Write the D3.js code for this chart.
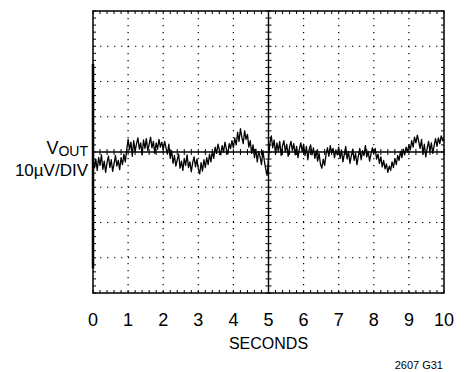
<!DOCTYPE html>
<html>
<head>
<meta charset="utf-8">
<script src="https://cdn.jsdelivr.net/npm/d3@7"></script>
<style>
  body { margin: 0; background: #fff; }
  text { font-family: "Liberation Sans", Arial, sans-serif; fill: #000; }
</style>
</head>
<body>
<div id="chart"></div>
<script>
// tick labels on the time axis (seconds)
const xTicks = [0, 1, 2, 3, 4, 5, 6, 7, 8, 9, 10];
// vertical divisions, 10uV each
const yDivs = [-40, -30, -20, -10, 0, 10, 20, 30, 40];

// sample spacing in seconds
const dt = 0.04;
// output noise in uV (one value every 40ms)
const noise = [
  -1.0,-4.5,-2.0,-5.2,-1.5,-3.8,-0.8,-4.9,-2.6,-5.8,-3.0,-1.2,-4.4,-2.2,-5.5,-3.4,-1.0,-4.0,-2.4,-5.0,-1.6,-3.6,-0.6,-2.8,0.5,
  3.6,0.6,2.8,-1.2,3.2,0.2,2.4,4.0,0.8,2.6,-0.8,3.4,1.0,3.8,0.4,2.2,4.2,1.2,3.0,-0.4,2.6,0.8,3.6,1.4,2.8,
  0.6,3.0,1.2,-0.6,2.2,-1.8,0.4,-3.2,-1.0,-4.0,-2.2,-0.6,-4.6,-2.6,-5.2,-1.8,-3.8,-0.8,-4.4,-2.8,-5.6,-3.0,-1.4,-4.2,-2.0,
  -4.8,-6.2,-3.0,-5.4,-2.2,-4.4,-1.6,-3.6,-0.6,-2.8,0.2,-1.8,1.4,-0.4,2.2,0.6,-0.8,1.8,0.0,2.8,0.8,-0.6,2.4,1.0,3.2,
  1.2,4.0,2.0,5.6,3.0,6.6,4.2,2.4,6.0,3.6,5.0,1.4,3.2,-0.4,2.0,-1.6,0.8,-2.8,0.2,-1.4,-3.6,0.4,-2.4,-4.8,-6.6,
  -2.0,2.4,4.6,1.2,3.4,-0.6,2.6,0.2,3.0,-1.0,1.8,3.2,0.0,2.2,-1.2,1.4,3.0,0.4,2.4,-0.8,1.6,-1.6,0.8,2.6,0.2,
  2.2,-1.0,1.6,-2.2,0.8,2.0,-0.8,1.2,-1.8,0.4,-2.6,-0.4,-3.4,-4.6,-2.0,-3.8,-0.6,1.2,-1.2,1.8,-0.2,1.0,-1.6,0.6,-0.8,
  1.4,-1.8,0.6,-2.8,-0.6,1.6,-2.0,0.2,-3.2,-1.0,0.8,-2.4,-0.4,-3.6,-1.2,1.0,-2.2,0.4,-1.0,1.8,-1.4,0.2,-2.6,-0.6,1.2,
  -0.4,1.0,-2.0,-0.6,-3.2,-1.4,-4.2,-2.4,-4.8,-3.4,-5.8,-4.0,-5.2,-2.8,-4.4,-1.8,-3.6,-1.0,-2.4,0.2,-1.6,0.8,-0.8,1.4,0.0,
  2.0,0.6,3.2,1.4,4.2,2.6,4.8,3.0,1.0,3.6,-0.6,2.2,-1.4,1.0,3.0,0.2,2.6,-0.4,1.8,3.8,1.6,4.0,2.4,4.6,3.2,
  3.6
];
// retrace along the left edge of the screen (uV)
const retrace = [25, -33];

const W = 469, H = 372;
const margin = {top: 11, right: 25, bottom: 79, left: 93},
    width = W - margin.left - margin.right,
    height = H - margin.top - margin.bottom;

const svg = d3.select("#chart").append("svg")
    .attr("width", W)
    .attr("height", H);

const g = svg.append("g")
    .attr("transform", "translate(" + margin.left + "," + margin.top + ")");

const x = d3.scaleLinear().domain([0, 10]).range([0, width]);
const y = d3.scaleLinear().domain([-40, 40]).range([height, 0]);

// dotted grid
g.selectAll(".vgrid")
    .data(xTicks.filter(d => d > 0 && d < 10 && d !== 5))
    .enter().append("line")
    .attr("x1", d => x(d)).attr("x2", d => x(d))
    .attr("y1", 0).attr("y2", height)
    .attr("stroke", "#000")
    .attr("stroke-width", 1.2)
    .attr("stroke-dasharray", "1.3,5.7");

g.selectAll(".hgrid")
    .data(yDivs.filter(d => d > -40 && d < 40 && d !== 0))
    .enter().append("line")
    .attr("x1", 0).attr("x2", width)
    .attr("y1", d => y(d)).attr("y2", d => y(d))
    .attr("stroke", "#000")
    .attr("stroke-width", 1.2)
    .attr("stroke-dasharray", "1.3,5.7");

// minor ticks every 1/5 division
const xMinor = d3.range(0, 10.001, 0.2);
const yMinor = d3.range(-40, 40.001, 2);

// on the frame, pointing inward
g.selectAll(".tb").data(xMinor).enter().append("line")
    .attr("x1", d => x(d)).attr("x2", d => x(d))
    .attr("y1", 0).attr("y2", 3)
    .attr("stroke", "#000");
g.selectAll(".bb").data(xMinor).enter().append("line")
    .attr("x1", d => x(d)).attr("x2", d => x(d))
    .attr("y1", height).attr("y2", height - 3)
    .attr("stroke", "#000");
g.selectAll(".lb").data(yMinor).enter().append("line")
    .attr("x1", 0).attr("x2", 3)
    .attr("y1", d => y(d)).attr("y2", d => y(d))
    .attr("stroke", "#000");
g.selectAll(".rb").data(yMinor).enter().append("line")
    .attr("x1", width).attr("x2", width - 3)
    .attr("y1", d => y(d)).attr("y2", d => y(d))
    .attr("stroke", "#000");

// centre cross with ticks on both sides
g.append("line")
    .attr("x1", x(5)).attr("x2", x(5))
    .attr("y1", 0).attr("y2", height)
    .attr("stroke", "#000").attr("stroke-width", 1.4);
g.append("line")
    .attr("x1", 0).attr("x2", width)
    .attr("y1", y(0)).attr("y2", y(0))
    .attr("stroke", "#000").attr("stroke-width", 1.4);
g.selectAll(".cx").data(xMinor).enter().append("line")
    .attr("x1", d => x(d)).attr("x2", d => x(d))
    .attr("y1", y(0) - 3).attr("y2", y(0) + 3)
    .attr("stroke", "#000");
g.selectAll(".cy").data(yMinor).enter().append("line")
    .attr("x1", x(5) - 3).attr("x2", x(5) + 3)
    .attr("y1", d => y(d)).attr("y2", d => y(d))
    .attr("stroke", "#000");

// frame
g.append("rect")
    .attr("width", width).attr("height", height)
    .attr("fill", "none")
    .attr("stroke", "#000")
    .attr("stroke-width", 1.5);

// retrace along the left edge
g.append("line")
    .attr("x1", x(0)).attr("x2", x(0))
    .attr("y1", y(retrace[0])).attr("y2", y(retrace[1]))
    .attr("stroke", "#000").attr("stroke-width", 2.5);

// noise trace
const line = d3.line()
    .x((d, i) => x(i * dt))
    .y(d => y(d));

g.append("path")
    .datum(noise)
    .attr("d", line)
    .attr("fill", "none")
    .attr("stroke", "#000")
    .attr("stroke-width", 1.3)
    .attr("stroke-linejoin", "round");

// x tick labels
g.selectAll(".xl").data(xTicks).enter().append("text")
    .attr("x", d => x(d))
    .attr("y", height + 33)
    .attr("text-anchor", "middle")
    .style("font-size", "18px")
    .text(d => d);

g.append("text")
    .attr("x", x(5))
    .attr("y", height + 56)
    .attr("text-anchor", "middle")
    .style("font-size", "16px")
    .text("SECONDS");

// y label
const vout = svg.append("text")
    .attr("x", 88)
    .attr("y", margin.top + y(0) + 2)
    .attr("text-anchor", "end")
    .style("font-size", "18px");
vout.append("tspan").text("V");
vout.append("tspan").attr("dy", 2).style("font-size", "14px").text("OUT");

svg.append("text")
    .attr("x", 88)
    .attr("y", margin.top + y(0) + 24)
    .attr("text-anchor", "end")
    .style("font-size", "17px")
    .text("10µV/DIV");

svg.append("text")
    .attr("x", 443)
    .attr("y", 369)
    .attr("text-anchor", "end")
    .style("font-size", "11px")
    .text("2607 G31");
</script>
</body>
</html>
